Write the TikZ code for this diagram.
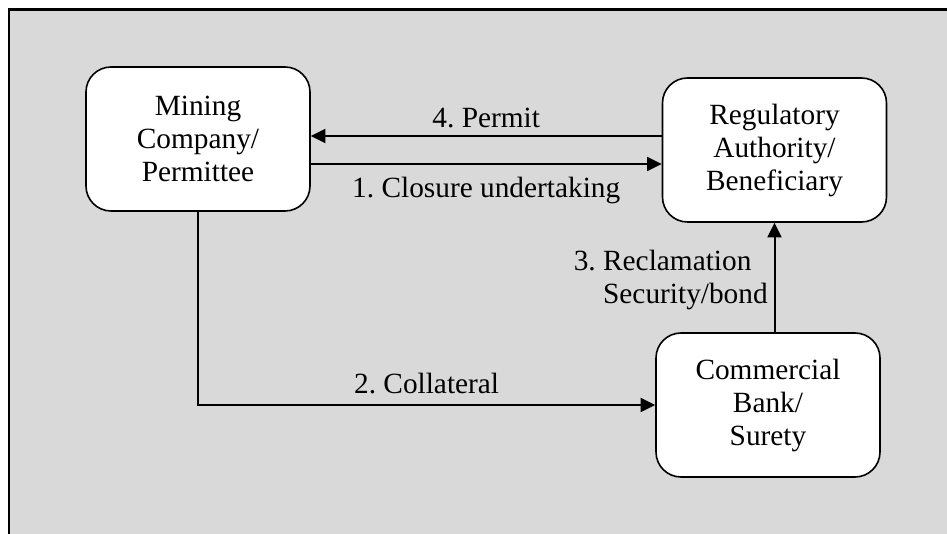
\documentclass[tikz,border=0pt]{standalone}
\usepackage{fontspec}
\setmainfont{Liberation Serif}
\usetikzlibrary{arrows.meta}
\definecolor{panelgray}{RGB}{217,217,217}

\begin{document}
\frenchspacing
\begin{tikzpicture}[x=0.75pt,y=-0.75pt,>={Triangle[length=11pt,width=10.5pt]},
  box/.style={draw,line width=1.2pt,fill=white,rounded corners=18.75pt,
    minimum width=168pt,minimum height=108pt,align=center,
    font=\fontsize{22}{24.75}\selectfont},
  arr/.style={->,line width=1.5pt},
  lbl/.style={font=\fontsize{22}{24.75}\selectfont}]
\useasboundingbox (0,0) rectangle (947,534);
\draw[fill=panelgray,line width=1.8pt] (9,9.5) rectangle (980,560);
% parties
\node[box] (mine) at (198,139) {Mining\\Company/\\Permittee};
\node[box] (reg) at (774.5,150) {Regulatory\\Authority/\\Beneficiary};
\node[box] (bank) at (768,405) {Commercial\\Bank/\\Surety};
\coordinate (ptop) at (480,136);
\coordinate (pbot) at (480,164);
% flows
\draw[arr] (reg.west |- ptop) -- node[lbl,above=2pt]{4. Permit} (mine.east |- ptop);
\draw[arr] (mine.east |- pbot) -- node[lbl,below=6pt]{1. Closure undertaking} (reg.west |- pbot);
\draw[arr] (mine.south) |- node[lbl,pos=0.75,above=4pt]{2. Collateral} (bank.west);
\draw[arr] (bank.north -| reg.south) -- node[lbl,left=1pt,align=left,yshift=-2pt]{3. Reclamation\\\hphantom{3. }Security/bond} (reg.south);
\end{tikzpicture}
\end{document}
